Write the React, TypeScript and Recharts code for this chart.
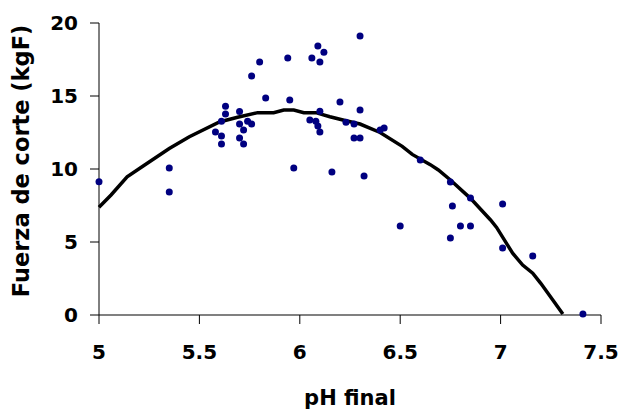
import React from 'react';
import { ScatterChart, Scatter, XAxis, YAxis } from 'recharts';

// measured points: pH final vs shear force
const phValues = [
  5.0, 5.35, 5.35, 5.58, 5.61, 5.61, 5.63, 5.63, 5.61, 5.7, 5.7, 5.72, 5.7, 5.72,
  5.74, 5.76, 5.76, 5.8, 5.83, 5.94, 5.95, 5.97, 6.06, 6.09, 6.12, 6.1, 6.1, 6.05,
  6.08, 6.09, 6.1, 6.2, 6.16, 6.23, 6.27, 6.3, 6.27, 6.3, 6.32, 6.4, 6.42, 6.3,
  6.5, 6.6, 6.75, 6.76, 6.85, 6.8, 6.85, 6.75, 7.01, 7.01, 7.16, 7.41,
];
const forceValues = [
  9.13, 10.07, 8.42, 12.53, 12.26, 11.71, 14.3, 13.77, 13.27, 13.93, 13.08, 12.67, 12.12, 11.71,
  13.27, 13.08, 16.37, 17.33, 14.86, 17.6, 14.73, 10.07, 17.6, 18.42, 18.0, 17.33, 13.95, 13.36,
  13.27, 12.95, 12.53, 14.59, 9.8, 13.2, 13.08, 14.04, 12.12, 12.12, 9.52, 12.67, 12.81, 19.11,
  6.1, 10.62, 9.11, 7.47, 8.01, 6.1, 6.1, 5.27, 7.6, 4.59, 4.04, 0.07,
];

// fitted curve
const curveX = [
  5.0, 5.06, 5.14, 5.22, 5.35, 5.45, 5.6, 5.69, 5.79, 5.87, 5.92, 5.97, 6.02, 6.08, 6.15, 6.23,
  6.3, 6.4, 6.51, 6.56, 6.65, 6.69, 6.75, 6.85, 6.95, 6.98, 7.06, 7.11, 7.16, 7.2, 7.26, 7.31,
];
const curveY = [
  7.38, 8.22, 9.47, 10.2, 11.4, 12.21, 13.22, 13.54, 13.86, 13.86, 14.04, 14.04, 13.86, 13.86, 13.58, 13.3,
  13.08, 12.5, 11.55, 11.0, 10.3, 9.93, 9.25, 7.99, 6.51, 6.0, 4.23, 3.42, 2.86, 2.17, 1.03, 0.07,
];

const xTicks = [5, 5.5, 6, 6.5, 7, 7.5];
const yTicks = [0, 5, 10, 15, 20];

const points = phValues.map((x, i) => ({ x, y: forceValues[i] }));
const curve = curveX.map((x, i) => ({ x, y: curveY[i] }));

// chart fills the whole window
if (typeof document !== 'undefined') document.body.style.margin = '0';

const font = 'DejaVu Sans';
const tickStyle = { fill: '#000', fontSize: 20, fontWeight: 'bold', fontFamily: font };

const Dot = (props: any) => <circle cx={props.cx} cy={props.cy} r={3.5} fill="#000080" />;
const NoDot = () => <g />;

export default function App() {
  return (
    <div style={{ width: 621, height: 410, background: '#fff' }}>
      <ScatterChart width={621} height={410} margin={{ top: 23, right: 20, left: 0, bottom: 0 }}>
        <XAxis
          type="number"
          dataKey="x"
          domain={[5, 7.5]}
          ticks={xTicks}
          interval={0}
          height={95}
          tickSize={9}
          tickMargin={21}
          tick={tickStyle}
          axisLine={{ stroke: '#808080', strokeWidth: 2 }}
          tickLine={{ stroke: '#000' }}
          label={{
            content: () => (
              <text x={350} y={405} textAnchor="middle" fontFamily={font} fontWeight="bold" fontSize={21} fill="#000">
                pH final
              </text>
            ),
          }}
        />
        <YAxis
          type="number"
          dataKey="y"
          domain={[0, 20]}
          ticks={yTicks}
          interval={0}
          width={99}
          tickSize={9}
          tickMargin={12}
          tick={tickStyle}
          axisLine={{ stroke: '#000' }}
          tickLine={{ stroke: '#000' }}
          label={{
            content: () => (
              <text
                x={21}
                y={161}
                dy="0.355em"
                transform="rotate(-90 21 161)"
                textAnchor="middle"
                fontFamily={font}
                fontWeight="bold"
                fontSize={22.5}
                fill="#000"
              >
                Fuerza de corte (kgF)
              </text>
            ),
          }}
        />
        <Scatter
          data={curve}
          line={{ stroke: '#000', strokeWidth: 3.5 }}
          lineType="joint"
          shape={NoDot}
          isAnimationActive={false}
        />
        <Scatter data={points} shape={Dot} isAnimationActive={false} />
      </ScatterChart>
    </div>
  );
}
